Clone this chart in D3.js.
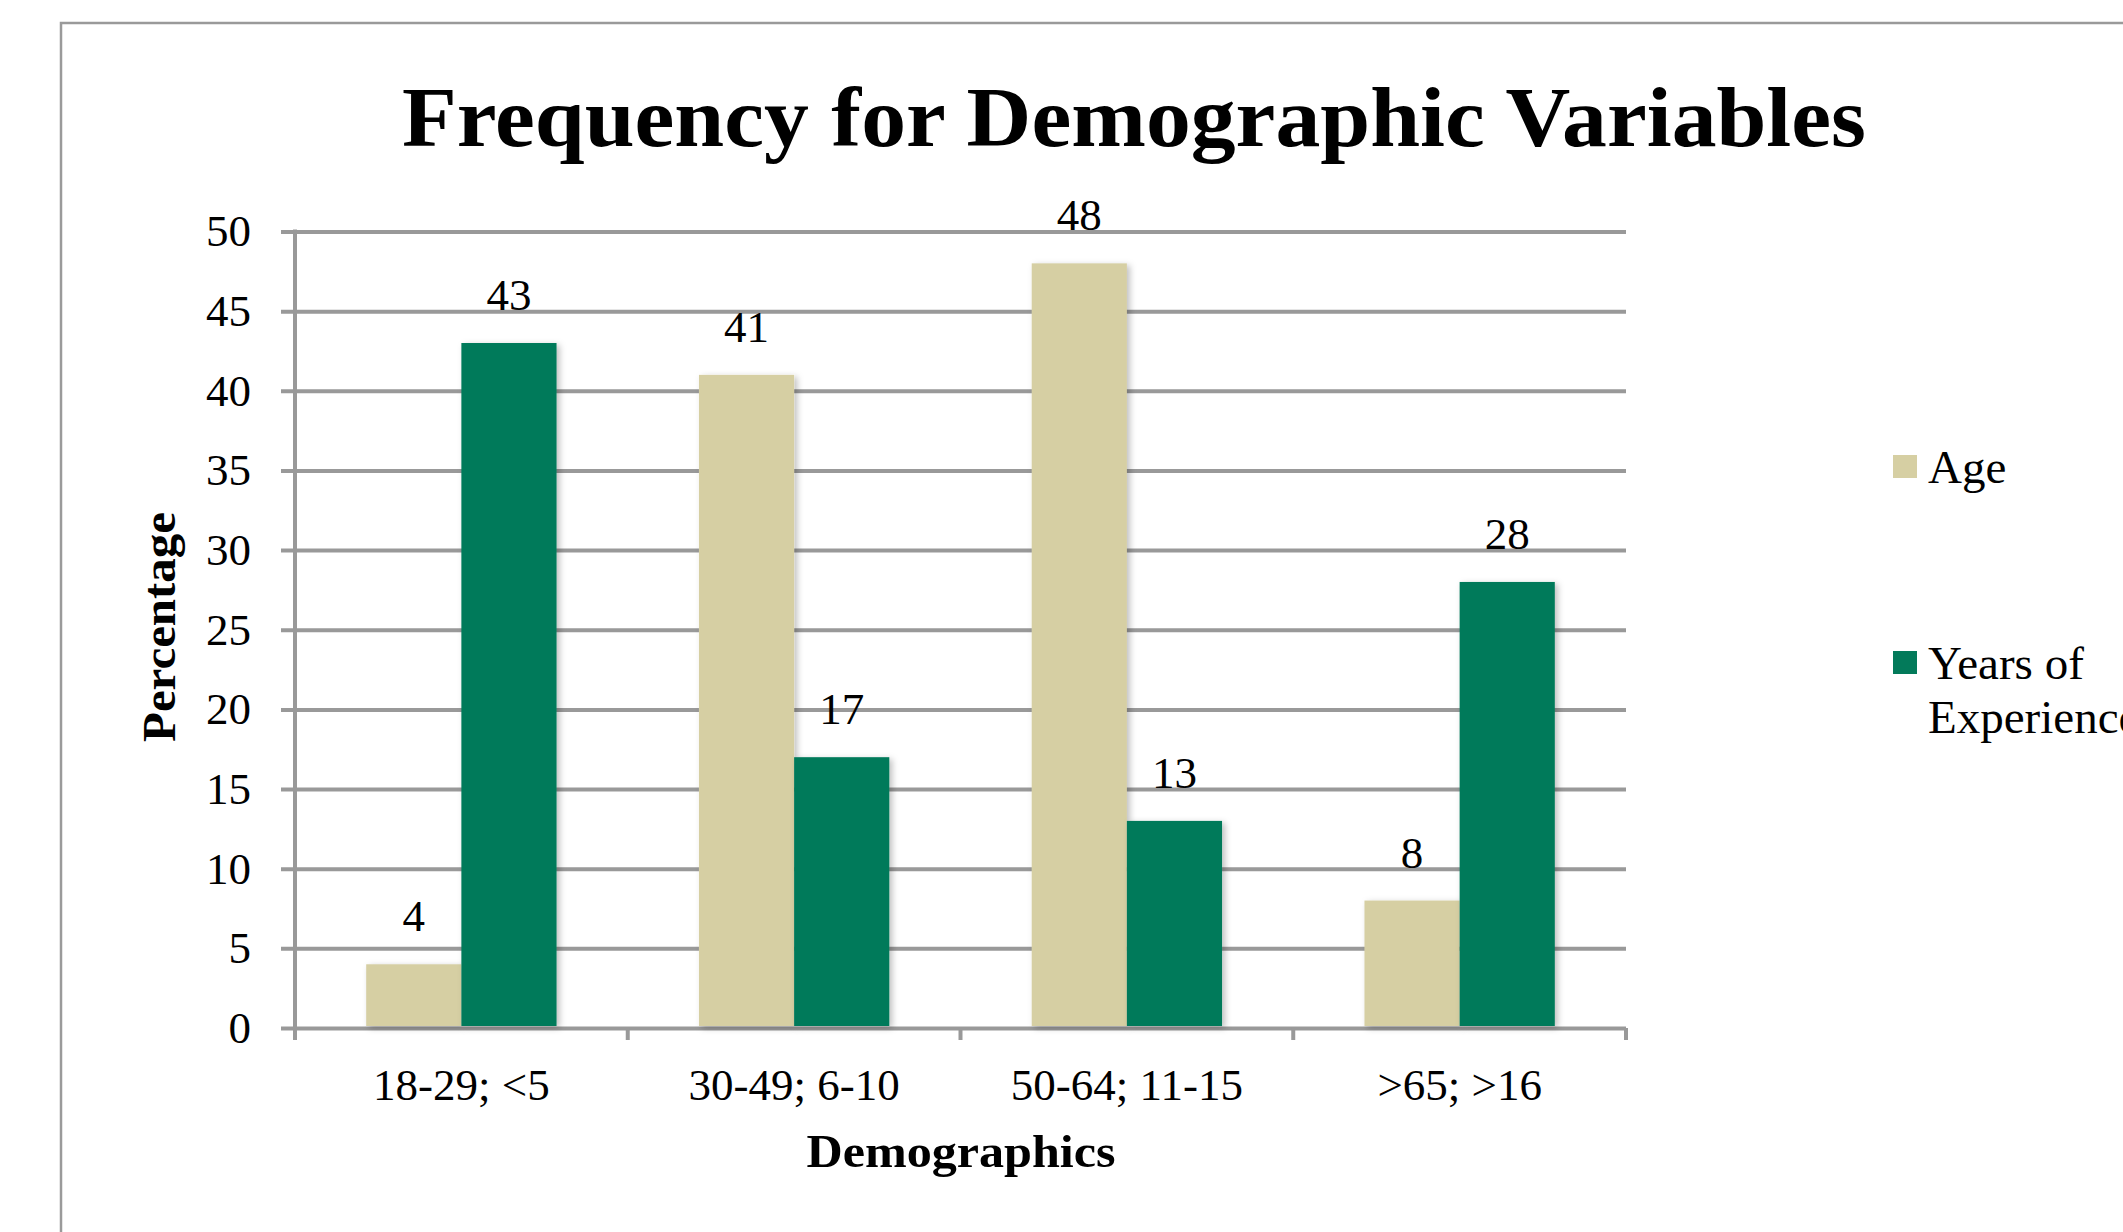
<!DOCTYPE html>
<html>
<head>
<meta charset="utf-8">
<script src="https://cdn.jsdelivr.net/npm/d3@7"></script>
<style>
  html, body { margin: 0; padding: 0; background: #fff; overflow: hidden; }
  svg { display: block; }
  text { font-family: "Liberation Serif", "DejaVu Serif", serif; fill: #000; }
</style>
</head>
<body>
<script>
// ---- Data ----
const categories = ["18-29; <5", "30-49; 6-10", "50-64; 11-15", ">65; >16"];
const seriesNames = ["Age", "Years of Experience"];
const ageValues = [4, 41, 48, 8];
const experienceValues = [43, 17, 13, 28];
const yTicks = [0, 5, 10, 15, 20, 25, 30, 35, 40, 45, 50];
const titleText = "Frequency for Demographic Variables";
const xTitle = "Demographics";
const yTitle = "Percentage";
const colors = ["#D6CFA3", "#037A5A"];

const W = 2123, H = 1232;
const svg = d3.select("body").append("svg").attr("width", W).attr("height", H);

// shadow filter
const defs = svg.append("defs");
const f = defs.append("filter").attr("id", "shadow").attr("x", "-20%").attr("y", "-20%").attr("width", "140%").attr("height", "140%");
f.append("feDropShadow").attr("dx", 3).attr("dy", 2).attr("stdDeviation", 3).attr("flood-color", "#000").attr("flood-opacity", 0.25);

// frame border
svg.append("path")
  .attr("d", `M61,${H} L61,23 L${W},23`)
  .attr("fill", "none").attr("stroke", "#9a9a9a").attr("stroke-width", 2.5);

// title
svg.append("text")
  .attr("x", 1134).attr("y", 146)
  .attr("text-anchor", "middle")
  .attr("font-size", 84).attr("font-weight", "bold")
  .attr("textLength", 1464).attr("lengthAdjust", "spacingAndGlyphs")
  .text(titleText);

// scales
const plotLeft = 295, plotRight = 1626, yBottom = 1028, yTop = 231.5;
const x = d3.scaleBand().domain(categories).range([plotLeft, plotRight]).paddingInner(0).paddingOuter(0);
const bw = x.bandwidth();
const xs = d3.scaleBand().domain(seriesNames).range([bw * 0.214, bw * 0.786]).padding(0);
const y = d3.scaleLinear().domain([0, 50]).range([yBottom, yTop]);

const gridColor = "#999999";
const gridWidth = 4;

// y axis with gridlines
const yAxisG = svg.append("g")
  .attr("transform", `translate(${plotLeft - 14},0)`)
  .call(d3.axisLeft(y).tickValues(yTicks).tickSize(-(plotRight - plotLeft + 14)).tickPadding(30));
yAxisG.select(".domain").remove();
yAxisG.selectAll(".tick line").attr("stroke", gridColor).attr("stroke-width", gridWidth);
yAxisG.selectAll(".tick text")
  .attr("font-size", 45).attr("font-family", "Liberation Serif, serif").attr("fill", "#000");

// vertical axis line
svg.append("line")
  .attr("x1", plotLeft).attr("x2", plotLeft)
  .attr("y1", yTop - 2).attr("y2", yBottom + 12)
  .attr("stroke", gridColor).attr("stroke-width", gridWidth);

// category boundary ticks
const boundaries = categories.map(c => x(c)).concat([plotRight]);
svg.append("g").selectAll("line").data(boundaries).join("line")
  .attr("x1", d => d).attr("x2", d => d)
  .attr("y1", yBottom).attr("y2", yBottom + 12)
  .attr("stroke", gridColor).attr("stroke-width", gridWidth);

// x axis labels
const xAxisG = svg.append("g")
  .attr("transform", `translate(0,${yBottom})`)
  .call(d3.axisBottom(x).tickSize(0).tickPadding(40));
xAxisG.select(".domain").remove();
xAxisG.selectAll(".tick text")
  .attr("font-size", 45).attr("font-family", "Liberation Serif, serif").attr("fill", "#000");

// bars
const rows = categories.map((c, i) => ({ cat: c, vals: [ageValues[i], experienceValues[i]] }));
const groups = svg.append("g").selectAll("g").data(rows).join("g")
  .attr("transform", d => `translate(${x(d.cat)},0)`);

groups.selectAll("rect").data(d => d.vals.map((v, j) => ({ name: seriesNames[j], v, j }))).join("rect")
  .attr("x", d => xs(d.name))
  .attr("width", xs.bandwidth())
  .attr("y", d => y(d.v))
  .attr("height", d => y(0) - y(d.v) - 2)
  .attr("fill", d => colors[d.j])
  .attr("filter", "url(#shadow)");

groups.selectAll("text.val").data(d => d.vals.map((v, j) => ({ name: seriesNames[j], v, j }))).join("text")
  .attr("class", "val")
  .attr("x", d => xs(d.name) + xs.bandwidth() / 2)
  .attr("y", d => y(d.v) - 33)
  .attr("text-anchor", "middle")
  .attr("font-size", 45)
  .text(d => d.v);

// axis titles
svg.append("text")
  .attr("x", 961).attr("y", 1167)
  .attr("text-anchor", "middle")
  .attr("font-size", 46).attr("font-weight", "bold")
  .attr("textLength", 309).attr("lengthAdjust", "spacingAndGlyphs")
  .text(xTitle);

svg.append("text")
  .attr("transform", "translate(175,627) rotate(-90)")
  .attr("text-anchor", "middle")
  .attr("font-size", 46).attr("font-weight", "bold")
  .attr("textLength", 230).attr("lengthAdjust", "spacingAndGlyphs")
  .text(yTitle);

// legend
const legend = svg.append("g");
const legendItems = [
  { name: seriesNames[0], lines: ["Age"], y: 455, color: colors[0] },
  { name: seriesNames[1], lines: ["Years of", "Experience"], y: 651, color: colors[1] }
];
legendItems.forEach(item => {
  legend.append("rect")
    .attr("x", 1893).attr("y", item.y).attr("width", 24).attr("height", 23)
    .attr("fill", item.color);
  const t = legend.append("text")
    .attr("x", 1928).attr("y", item.y + 28)
    .attr("font-size", 47);
  item.lines.forEach((ln, k) => {
    t.append("tspan").attr("x", 1928).attr("dy", k === 0 ? 0 : 54).text(ln);
  });
});
</script>
</body>
</html>
